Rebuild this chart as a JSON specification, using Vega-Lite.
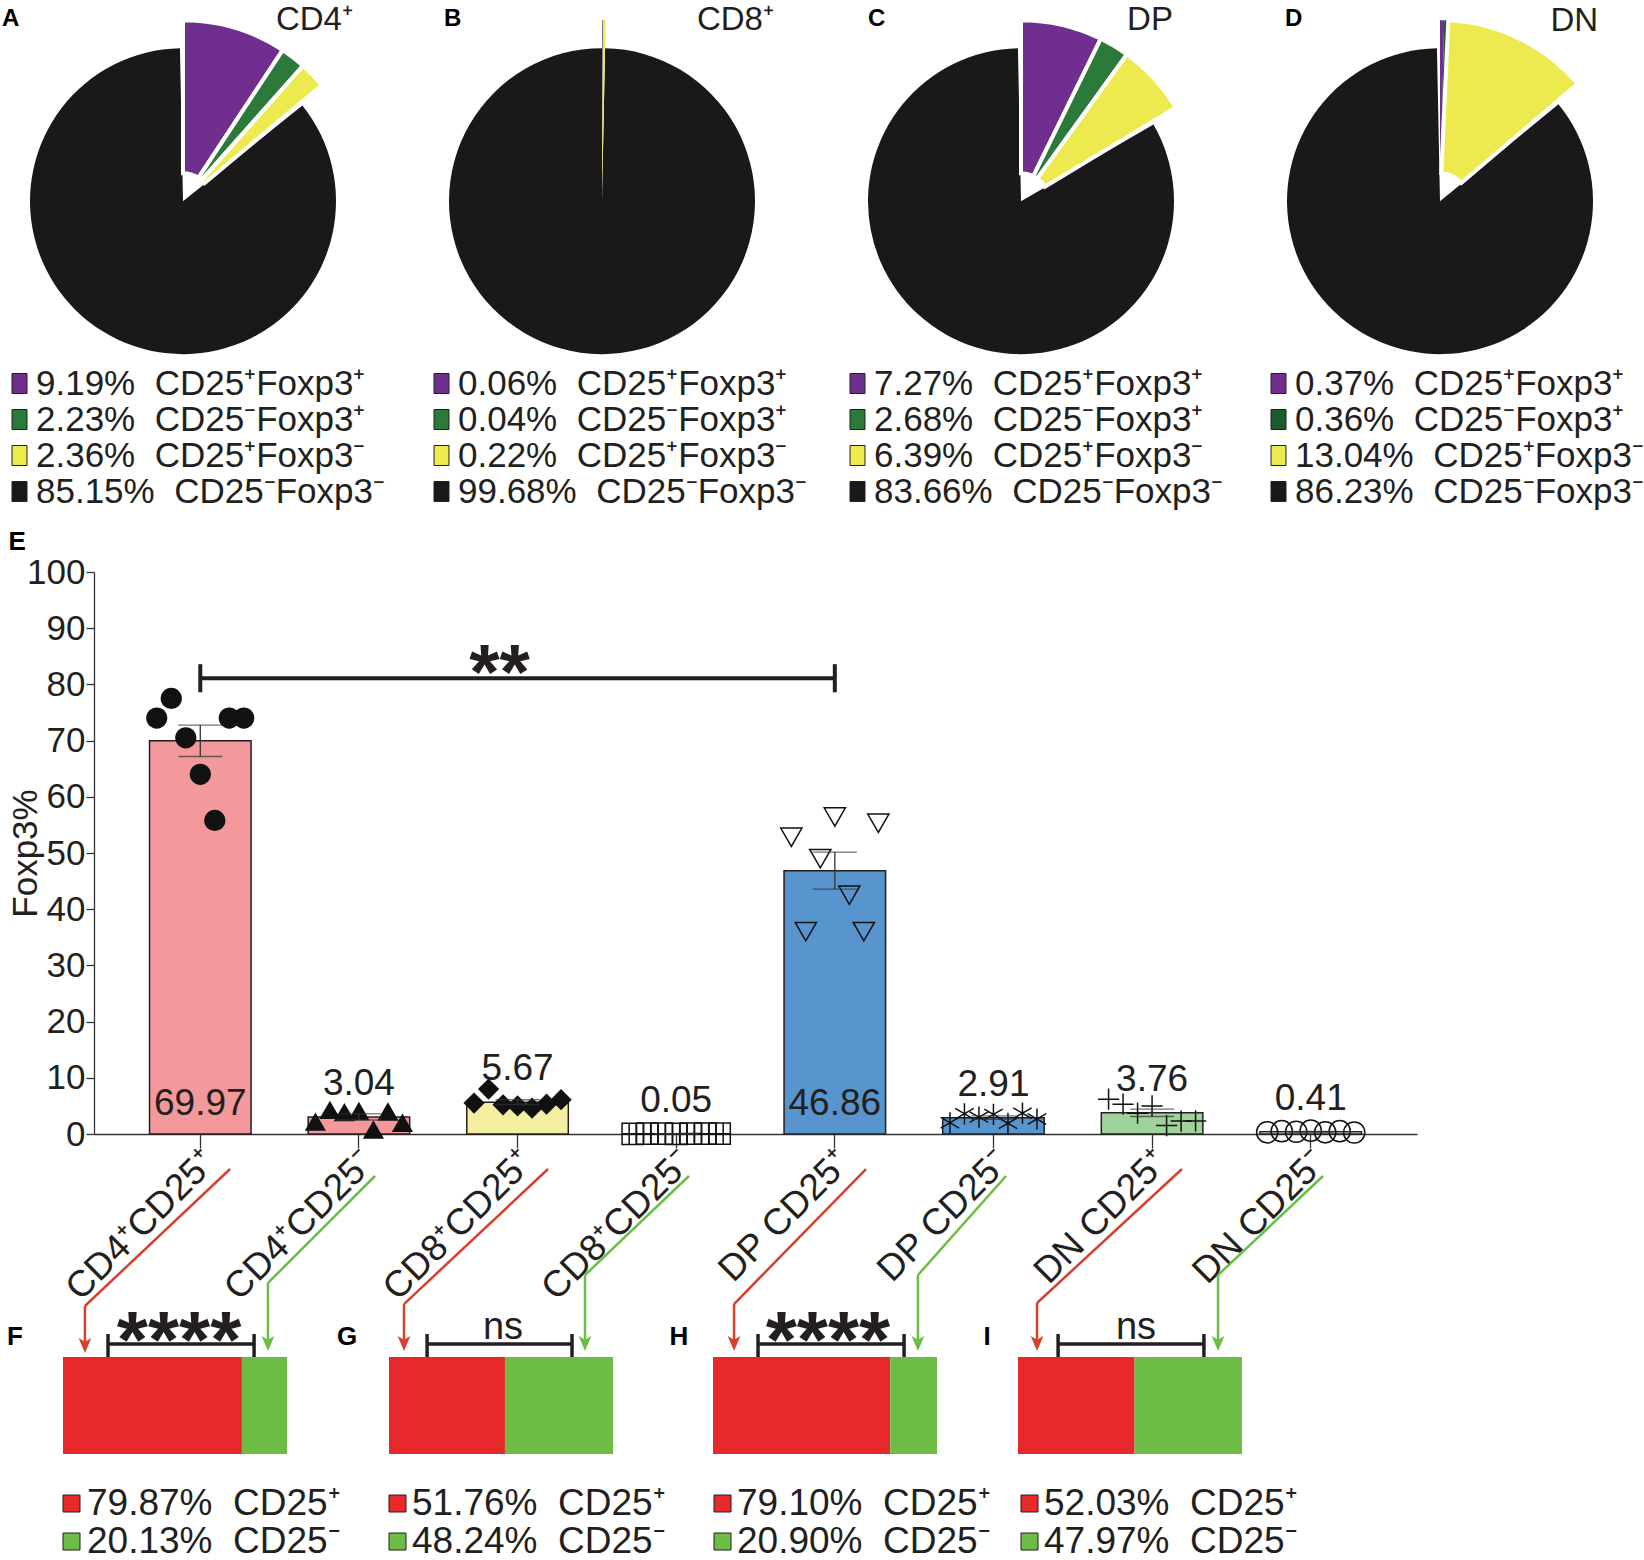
{
  "$schema": "https://vega.github.io/schema/vega-lite/v6.json",
  "padding": {"left": 2, "top": 4, "right": 0, "bottom": 0},
  "spacing": 223,
  "bounds": "flush",
  "config": {
    "font": "Liberation Sans",
    "view": {"stroke": null},
    "text": {"color": "#231F20"},
    "axis": {"labelColor": "#231F20", "titleColor": "#231F20", "domainColor": "#333333", "tickColor": "#333333", "grid": false, "labelFont": "Liberation Sans", "titleFont": "Liberation Sans"},
    "legend": {"labelFont": "Liberation Sans", "labelColor": "#231F20", "labelLimit": 0}
  },
  "datasets": {
    "bars": [
      {"g": "CD4⁺CD25⁺", "mean": 69.97, "sem": 2.8},
      {"g": "CD4⁺CD25⁻", "mean": 3.04, "sem": 0.55},
      {"g": "CD8⁺CD25⁺", "mean": 5.67, "sem": 0.42},
      {"g": "CD8⁺CD25⁻", "mean": 0.05, "sem": 0.005},
      {"g": "DP CD25⁺", "mean": 46.86, "sem": 3.3},
      {"g": "DP CD25⁻", "mean": 2.91, "sem": 0.3},
      {"g": "DN CD25⁺", "mean": 3.76, "sem": 0.65},
      {"g": "DN CD25⁻", "mean": 0.41, "sem": 0.05}
    ],
    "pts": [
      {"g": "CD4⁺CD25⁺", "rep": 1, "v": 74.0}, {"g": "CD4⁺CD25⁺", "rep": 2, "v": 77.5}, {"g": "CD4⁺CD25⁺", "rep": 3, "v": 70.5}, {"g": "CD4⁺CD25⁺", "rep": 4, "v": 64.0}, {"g": "CD4⁺CD25⁺", "rep": 5, "v": 55.8}, {"g": "CD4⁺CD25⁺", "rep": 6, "v": 74.0}, {"g": "CD4⁺CD25⁺", "rep": 7, "v": 74.0},
      {"g": "CD4⁺CD25⁻", "rep": 1, "v": 2.2}, {"g": "CD4⁺CD25⁻", "rep": 2, "v": 4.3}, {"g": "CD4⁺CD25⁻", "rep": 3, "v": 3.9}, {"g": "CD4⁺CD25⁻", "rep": 4, "v": 4.1}, {"g": "CD4⁺CD25⁻", "rep": 5, "v": 0.8}, {"g": "CD4⁺CD25⁻", "rep": 6, "v": 4.0}, {"g": "CD4⁺CD25⁻", "rep": 7, "v": 2.0},
      {"g": "CD8⁺CD25⁺", "rep": 1, "v": 5.5}, {"g": "CD8⁺CD25⁺", "rep": 2, "v": 8.0}, {"g": "CD8⁺CD25⁺", "rep": 3, "v": 5.2}, {"g": "CD8⁺CD25⁺", "rep": 4, "v": 5.0}, {"g": "CD8⁺CD25⁺", "rep": 5, "v": 4.6}, {"g": "CD8⁺CD25⁺", "rep": 6, "v": 5.3}, {"g": "CD8⁺CD25⁺", "rep": 7, "v": 6.1},
      {"g": "CD8⁺CD25⁻", "rep": 1, "v": 0.03}, {"g": "CD8⁺CD25⁻", "rep": 2, "v": 0.06}, {"g": "CD8⁺CD25⁻", "rep": 3, "v": 0.05}, {"g": "CD8⁺CD25⁻", "rep": 4, "v": 0.04}, {"g": "CD8⁺CD25⁻", "rep": 5, "v": 0.07}, {"g": "CD8⁺CD25⁻", "rep": 6, "v": 0.05}, {"g": "CD8⁺CD25⁻", "rep": 7, "v": 0.05},
      {"g": "DP CD25⁺", "rep": 1, "v": 52.8}, {"g": "DP CD25⁺", "rep": 2, "v": 36.0}, {"g": "DP CD25⁺", "rep": 3, "v": 49.0}, {"g": "DP CD25⁺", "rep": 4, "v": 56.4}, {"g": "DP CD25⁺", "rep": 5, "v": 42.5}, {"g": "DP CD25⁺", "rep": 6, "v": 36.0}, {"g": "DP CD25⁺", "rep": 7, "v": 55.3},
      {"g": "DP CD25⁻", "rep": 1, "v": 2.0}, {"g": "DP CD25⁻", "rep": 2, "v": 3.6}, {"g": "DP CD25⁻", "rep": 3, "v": 3.0}, {"g": "DP CD25⁻", "rep": 4, "v": 3.5}, {"g": "DP CD25⁻", "rep": 5, "v": 1.9}, {"g": "DP CD25⁻", "rep": 6, "v": 3.7}, {"g": "DP CD25⁻", "rep": 7, "v": 2.67},
      {"g": "DN CD25⁺", "rep": 1, "v": 6.2}, {"g": "DN CD25⁺", "rep": 2, "v": 5.3}, {"g": "DN CD25⁺", "rep": 3, "v": 3.7}, {"g": "DN CD25⁺", "rep": 4, "v": 5.0}, {"g": "DN CD25⁺", "rep": 5, "v": 1.5}, {"g": "DN CD25⁺", "rep": 6, "v": 2.3}, {"g": "DN CD25⁺", "rep": 7, "v": 2.32},
      {"g": "DN CD25⁻", "rep": 1, "v": 0.3}, {"g": "DN CD25⁻", "rep": 2, "v": 0.5}, {"g": "DN CD25⁻", "rep": 3, "v": 0.4}, {"g": "DN CD25⁻", "rep": 4, "v": 0.6}, {"g": "DN CD25⁻", "rep": 5, "v": 0.3}, {"g": "DN CD25⁻", "rep": 6, "v": 0.5}, {"g": "DN CD25⁻", "rep": 7, "v": 0.27}
    ]
  },
  "resolve": {"scale": {"x": "independent", "y": "independent", "color": "independent"}, "legend": {"color": "independent"}},
  "vconcat": [
    {
      "spacing": 241,
      "bounds": "flush",
      "resolve": {"scale": {"x": "independent", "y": "independent", "color": "independent", "theta": "independent"}, "legend": {"color": "independent"}},
      "hconcat": [
        {
          "width": 178, "height": 150,
          "data": {"values": [
            {"k": "9.19%\u00a0\u00a0CD25⁺Foxp3⁺", "p": 9.19, "o": 1},
            {"k": "2.23%\u00a0\u00a0CD25⁻Foxp3⁺", "p": 2.23, "o": 2},
            {"k": "2.36%\u00a0\u00a0CD25⁺Foxp3⁻", "p": 2.36, "o": 3},
            {"k": "85.15%\u00a0\u00a0CD25⁻Foxp3⁻", "p": 85.15, "o": 4}
          ]},
          "encoding": {
            "x": {"datum": 0, "type": "quantitative", "scale": {"domain": [-0.5817, 0.5817], "nice": false, "zero": false}, "axis": null},
            "y": {"datum": 0, "type": "quantitative", "scale": {"domain": [-1.948, -0.967], "nice": false, "zero": false}, "axis": null}
          },
          "layer": [
            {
              "mark": {"type": "arc", "outerRadius": 153, "padAngle": 0.04},
              "encoding": {
                "theta": {"field": "p", "type": "quantitative", "stack": true},
                "order": {"field": "o"},
                "color": {"field": "k", "type": "nominal", "scale": {"domain": ["9.19%\u00a0\u00a0CD25⁺Foxp3⁺", "2.23%\u00a0\u00a0CD25⁻Foxp3⁺", "2.36%\u00a0\u00a0CD25⁺Foxp3⁻", "85.15%\u00a0\u00a0CD25⁻Foxp3⁻"], "range": ["#702F8F", "#2C7A3A", "#ECEA4F", "#1B1819"]},
                  "legend": {"orient": "none", "legendX": -92, "legendY": 17, "title": null, "symbolType": "M-0.75,-1H0.75V1H-0.75Z", "symbolSize": 400, "symbolStrokeColor": "#231F20", "symbolStrokeWidth": 1, "labelFontSize": 35, "labelOffset": -1, "rowPadding": 0, "labelLimit": 0}},
                "opacity": {"condition": {"test": "datum.o == 4", "value": 1}, "value": 0}
              }
            },
            {
              "mark": {"type": "arc", "outerRadius": 181, "innerRadius": 28, "stroke": "white"},
              "encoding": {
                "theta": {"field": "p", "type": "quantitative", "stack": true},
                "order": {"field": "o"},
                "color": {"field": "k", "type": "nominal"},
                "opacity": {"condition": {"test": "datum.o == 4", "value": 0}, "value": 1},
                "strokeWidth": {"condition": {"test": "datum.p > 1", "value": 4}, "value": 0}
              }
            },
            {
              "data": {"values": [{}]},
              "mark": {"type": "text", "align": "left", "baseline": "alphabetic", "fontSize": 24, "fontWeight": "bold", "color": "#000000"},
              "encoding": {"x": {"datum": -1.183, "type": "quantitative"}, "y": {"datum": 1.144, "type": "quantitative"}, "text": {"value": "A"}}
            },
            {
              "data": {"values": [{}]},
              "mark": {"type": "text", "align": "right", "baseline": "alphabetic", "fontSize": 33},
              "encoding": {"x": {"datum": 1.111, "type": "quantitative"}, "y": {"datum": 1.118, "type": "quantitative"}, "text": {"value": "CD4⁺"}}
            }
          ]
        },
        {
          "width": 178, "height": 150,
          "data": {"values": [
            {"k": "0.06%\u00a0\u00a0CD25⁺Foxp3⁺", "p": 0.06, "o": 1},
            {"k": "0.04%\u00a0\u00a0CD25⁻Foxp3⁺", "p": 0.04, "o": 2},
            {"k": "0.22%\u00a0\u00a0CD25⁺Foxp3⁻", "p": 0.22, "o": 3},
            {"k": "99.68%\u00a0\u00a0CD25⁻Foxp3⁻", "p": 99.68, "o": 4}
          ]},
          "encoding": {
            "x": {"datum": 0, "type": "quantitative", "scale": {"domain": [-0.5817, 0.5817], "nice": false, "zero": false}, "axis": null},
            "y": {"datum": 0, "type": "quantitative", "scale": {"domain": [-1.948, -0.967], "nice": false, "zero": false}, "axis": null}
          },
          "layer": [
            {
              "mark": {"type": "arc", "outerRadius": 153},
              "encoding": {
                "theta": {"field": "p", "type": "quantitative", "stack": true},
                "order": {"field": "o"},
                "color": {"field": "k", "type": "nominal", "scale": {"domain": ["0.06%\u00a0\u00a0CD25⁺Foxp3⁺", "0.04%\u00a0\u00a0CD25⁻Foxp3⁺", "0.22%\u00a0\u00a0CD25⁺Foxp3⁻", "99.68%\u00a0\u00a0CD25⁻Foxp3⁻"], "range": ["#702F8F", "#2C7A3A", "#ECEA4F", "#1B1819"]},
                  "legend": {"orient": "none", "legendX": -89, "legendY": 17, "title": null, "symbolType": "M-0.75,-1H0.75V1H-0.75Z", "symbolSize": 400, "symbolStrokeColor": "#231F20", "symbolStrokeWidth": 1, "labelFontSize": 35, "labelOffset": -1, "rowPadding": 0, "labelLimit": 0}},
                "opacity": {"condition": {"test": "datum.o == 4", "value": 1}, "value": 0}
              }
            },
            {
              "mark": {"type": "arc", "outerRadius": 181, "innerRadius": 28, "stroke": "white"},
              "encoding": {
                "theta": {"field": "p", "type": "quantitative", "stack": true},
                "order": {"field": "o"},
                "color": {"field": "k", "type": "nominal"},
                "opacity": {"condition": {"test": "datum.o == 4", "value": 0}, "value": 1},
                "strokeWidth": {"condition": {"test": "datum.p > 1", "value": 4}, "value": 0}
              }
            },
            {
              "data": {"values": [{}]},
              "mark": {"type": "text", "align": "left", "baseline": "alphabetic", "fontSize": 24, "fontWeight": "bold", "color": "#000000"},
              "encoding": {"x": {"datum": -1.033, "type": "quantitative"}, "y": {"datum": 1.144, "type": "quantitative"}, "text": {"value": "B"}}
            },
            {
              "data": {"values": [{}]},
              "mark": {"type": "text", "align": "right", "baseline": "alphabetic", "fontSize": 33},
              "encoding": {"x": {"datum": 1.124, "type": "quantitative"}, "y": {"datum": 1.118, "type": "quantitative"}, "text": {"value": "CD8⁺"}}
            }
          ]
        },
        {
          "width": 178, "height": 150,
          "data": {"values": [
            {"k": "7.27%\u00a0\u00a0CD25⁺Foxp3⁺", "p": 7.27, "o": 1},
            {"k": "2.68%\u00a0\u00a0CD25⁻Foxp3⁺", "p": 2.68, "o": 2},
            {"k": "6.39%\u00a0\u00a0CD25⁺Foxp3⁻", "p": 6.39, "o": 3},
            {"k": "83.66%\u00a0\u00a0CD25⁻Foxp3⁻", "p": 83.66, "o": 4}
          ]},
          "encoding": {
            "x": {"datum": 0, "type": "quantitative", "scale": {"domain": [-0.5817, 0.5817], "nice": false, "zero": false}, "axis": null},
            "y": {"datum": 0, "type": "quantitative", "scale": {"domain": [-1.948, -0.967], "nice": false, "zero": false}, "axis": null}
          },
          "layer": [
            {
              "mark": {"type": "arc", "outerRadius": 153, "padAngle": 0.04},
              "encoding": {
                "theta": {"field": "p", "type": "quantitative", "stack": true},
                "order": {"field": "o"},
                "color": {"field": "k", "type": "nominal", "scale": {"domain": ["7.27%\u00a0\u00a0CD25⁺Foxp3⁺", "2.68%\u00a0\u00a0CD25⁻Foxp3⁺", "6.39%\u00a0\u00a0CD25⁺Foxp3⁻", "83.66%\u00a0\u00a0CD25⁻Foxp3⁻"], "range": ["#702F8F", "#2C7A3A", "#ECEA4F", "#1B1819"]},
                  "legend": {"orient": "none", "legendX": -92, "legendY": 17, "title": null, "symbolType": "M-0.75,-1H0.75V1H-0.75Z", "symbolSize": 400, "symbolStrokeColor": "#231F20", "symbolStrokeWidth": 1, "labelFontSize": 35, "labelOffset": -1, "rowPadding": 0, "labelLimit": 0}},
                "opacity": {"condition": {"test": "datum.o == 4", "value": 1}, "value": 0}
              }
            },
            {
              "mark": {"type": "arc", "outerRadius": 181, "innerRadius": 28, "stroke": "white"},
              "encoding": {
                "theta": {"field": "p", "type": "quantitative", "stack": true},
                "order": {"field": "o"},
                "color": {"field": "k", "type": "nominal"},
                "opacity": {"condition": {"test": "datum.o == 4", "value": 0}, "value": 1},
                "strokeWidth": {"condition": {"test": "datum.p > 1", "value": 4}, "value": 0}
              }
            },
            {
              "data": {"values": [{}]},
              "mark": {"type": "text", "align": "left", "baseline": "alphabetic", "fontSize": 24, "fontWeight": "bold", "color": "#000000"},
              "encoding": {"x": {"datum": -1.0, "type": "quantitative"}, "y": {"datum": 1.144, "type": "quantitative"}, "text": {"value": "C"}}
            },
            {
              "data": {"values": [{}]},
              "mark": {"type": "text", "align": "right", "baseline": "alphabetic", "fontSize": 33},
              "encoding": {"x": {"datum": 0.993, "type": "quantitative"}, "y": {"datum": 1.118, "type": "quantitative"}, "text": {"value": "DP"}}
            }
          ]
        },
        {
          "width": 178, "height": 150,
          "data": {"values": [
            {"k": "0.37%\u00a0\u00a0CD25⁺Foxp3⁺", "p": 0.37, "o": 1},
            {"k": "0.36%\u00a0\u00a0CD25⁻Foxp3⁺", "p": 0.36, "o": 2},
            {"k": "13.04%\u00a0\u00a0CD25⁺Foxp3⁻", "p": 13.04, "o": 3},
            {"k": "86.23%\u00a0\u00a0CD25⁻Foxp3⁻", "p": 86.23, "o": 4}
          ]},
          "encoding": {
            "x": {"datum": 0, "type": "quantitative", "scale": {"domain": [-0.5817, 0.5817], "nice": false, "zero": false}, "axis": null},
            "y": {"datum": 0, "type": "quantitative", "scale": {"domain": [-1.948, -0.967], "nice": false, "zero": false}, "axis": null}
          },
          "layer": [
            {
              "mark": {"type": "arc", "outerRadius": 153, "padAngle": 0.04},
              "encoding": {
                "theta": {"field": "p", "type": "quantitative", "stack": true},
                "order": {"field": "o"},
                "color": {"field": "k", "type": "nominal", "scale": {"domain": ["0.37%\u00a0\u00a0CD25⁺Foxp3⁺", "0.36%\u00a0\u00a0CD25⁻Foxp3⁺", "13.04%\u00a0\u00a0CD25⁺Foxp3⁻", "86.23%\u00a0\u00a0CD25⁻Foxp3⁻"], "range": ["#702F8F", "#1F5A2E", "#ECEA4F", "#1B1819"]},
                  "legend": {"orient": "none", "legendX": -90, "legendY": 17, "title": null, "symbolType": "M-0.75,-1H0.75V1H-0.75Z", "symbolSize": 400, "symbolStrokeColor": "#231F20", "symbolStrokeWidth": 1, "labelFontSize": 35, "labelOffset": -1, "rowPadding": 0, "labelLimit": 0}},
                "opacity": {"condition": {"test": "datum.o == 4", "value": 1}, "value": 0}
              }
            },
            {
              "mark": {"type": "arc", "outerRadius": 181, "innerRadius": 28, "stroke": "white"},
              "encoding": {
                "theta": {"field": "p", "type": "quantitative", "stack": true},
                "order": {"field": "o"},
                "color": {"field": "k", "type": "nominal"},
                "opacity": {"condition": {"test": "datum.o == 4", "value": 0}, "value": 1},
                "strokeWidth": {"condition": {"test": "datum.p > 1", "value": 4}, "value": 0}
              }
            },
            {
              "data": {"values": [{}]},
              "mark": {"type": "text", "align": "left", "baseline": "alphabetic", "fontSize": 24, "fontWeight": "bold", "color": "#000000"},
              "encoding": {"x": {"datum": -1.013, "type": "quantitative"}, "y": {"datum": 1.144, "type": "quantitative"}, "text": {"value": "D"}}
            },
            {
              "data": {"values": [{}]},
              "mark": {"type": "text", "align": "right", "baseline": "alphabetic", "fontSize": 33},
              "encoding": {"x": {"datum": 1.033, "type": "quantitative"}, "y": {"datum": 1.111, "type": "quantitative"}, "text": {"value": "DN"}}
            }
          ]
        }
      ]
    },
    {
      "width": 1323, "height": 562,
      "title": {"text": "E", "anchor": "start", "frame": "bounds", "fontSize": 26, "fontWeight": "bold", "offset": 0, "dx": 0, "color": "#000000"},
      "resolve": {"scale": {"xOffset": "independent"}},
      "encoding": {
        "x": {"field": "g", "type": "nominal", "sort": null, "title": null,
          "scale": {"domain": ["CD4⁺CD25⁺", "CD4⁺CD25⁻", "CD8⁺CD25⁺", "CD8⁺CD25⁻", "DP CD25⁺", "DP CD25⁻", "DN CD25⁺", "DN CD25⁻"], "paddingInner": 0.36, "paddingOuter": 0.35},
          "axis": {"labelAngle": -45, "labelAlign": "right", "labelBaseline": "middle", "labelFontSize": 37, "tickSize": 14, "tickWidth": 1.3, "domainWidth": 1.3, "labelPadding": 8, "labelOffset": 10, "labelLimit": 0}}
      },
      "layer": [
        {
          "data": {"name": "bars"},
          "mark": {"type": "bar", "stroke": "#231F20", "strokeWidth": 1.5},
          "encoding": {
            "y": {"field": "mean", "type": "quantitative", "title": "Foxp3%", "scale": {"domain": [0, 100], "nice": false},
              "axis": {"values": [0, 10, 20, 30, 40, 50, 60, 70, 80, 90, 100], "tickSize": 8, "tickWidth": 1.3, "domainWidth": 1.3, "labelFontSize": 35, "labelPadding": 1, "titleFontSize": 35, "titleFontWeight": "normal", "titlePadding": -17}},
            "fill": {"field": "g", "type": "nominal", "legend": null,
              "scale": {"domain": ["CD4⁺CD25⁺", "CD4⁺CD25⁻", "CD8⁺CD25⁺", "CD8⁺CD25⁻", "DP CD25⁺", "DP CD25⁻", "DN CD25⁺", "DN CD25⁻"], "range": ["#F3999B", "#F3999B", "#F4EFA0", "#FFFFFF", "#5895CE", "#5895CE", "#A0D39C", "#FFFFFF"]}}
          }
        },
        {
          "data": {"name": "pts"},
          "transform": [{"filter": {"field": "g", "oneOf": ["CD4⁺CD25⁺", "CD4⁺CD25⁻", "CD8⁺CD25⁺"]}}],
          "mark": {"type": "point", "filled": true, "color": "#111111", "size": 450, "opacity": 1},
          "encoding": {
            "xOffset": {"field": "rep", "type": "nominal"},
            "y": {"field": "v", "type": "quantitative", "title": "Foxp3%"},
            "shape": {"field": "g", "type": "nominal", "legend": null,
              "scale": {"domain": ["CD4⁺CD25⁺", "CD4⁺CD25⁻", "CD8⁺CD25⁺", "CD8⁺CD25⁻", "DP CD25⁺", "DP CD25⁻", "DN CD25⁺", "DN CD25⁻"], "range": ["circle", "triangle-up", "diamond", "M-1,-1H1V1H-1ZM-0.33,-1V1M0.33,-1V1M-1,0H1", "triangle-down", "M0,-1V1M-0.87,-0.5L0.87,0.5M-0.87,0.5L0.87,-0.5", "M0,-1V1M-1,0H1", "circle"]}}
          }
        },
        {
          "data": {"name": "pts"},
          "transform": [{"filter": {"field": "g", "oneOf": ["CD8⁺CD25⁻", "DP CD25⁺", "DP CD25⁻", "DN CD25⁺", "DN CD25⁻"]}}],
          "mark": {"type": "point", "filled": false, "stroke": "#111111", "strokeWidth": 1.5, "size": 450, "opacity": 1},
          "encoding": {
            "xOffset": {"field": "rep", "type": "nominal"},
            "y": {"field": "v", "type": "quantitative", "title": "Foxp3%"},
            "shape": {"field": "g", "type": "nominal", "legend": null}
          }
        },
        {
          "data": {"name": "bars"},
          "mark": {"type": "errorbar", "ticks": {"size": 44}, "color": "#333333", "thickness": 1.3},
          "encoding": {
            "y": {"field": "mean", "type": "quantitative", "title": "Foxp3%"},
            "yError": {"field": "sem"}
          }
        },
        {
          "data": {"name": "bars"},
          "transform": [{"filter": "datum.mean > 20"}],
          "mark": {"type": "text", "fontSize": 37, "baseline": "middle", "dy": -30},
          "encoding": {
            "y": {"datum": 0, "type": "quantitative", "title": "Foxp3%"},
            "text": {"field": "mean", "type": "quantitative", "format": ".2f"}
          }
        },
        {
          "data": {"name": "bars"},
          "transform": [{"filter": "datum.mean <= 20"}],
          "mark": {"type": "text", "fontSize": 37, "baseline": "middle", "dy": -33},
          "encoding": {
            "y": {"field": "mean", "type": "quantitative", "title": "Foxp3%"},
            "text": {"field": "mean", "type": "quantitative", "format": ".2f"}
          }
        },
        {
          "data": {"values": [{}]},
          "mark": {"type": "rule", "strokeWidth": 4, "color": "#231F20"},
          "encoding": {
            "x": {"datum": "CD4⁺CD25⁺", "bandPosition": 0.5},
            "x2": {"datum": "DP CD25⁺", "bandPosition": 0.5},
            "y": {"datum": 81.1, "type": "quantitative", "title": "Foxp3%"}
          }
        },
        {
          "data": {"values": [{"g": "CD4⁺CD25⁺"}, {"g": "DP CD25⁺"}]},
          "mark": {"type": "rule", "strokeWidth": 4, "color": "#231F20"},
          "encoding": {
            "y": {"datum": 78.6, "type": "quantitative", "title": "Foxp3%"},
            "y2": {"datum": 83.6}
          }
        },
        {
          "data": {"values": [{}]},
          "mark": {"type": "text", "fontSize": 78, "fontWeight": "bold", "baseline": "alphabetic", "dx": -18},
          "encoding": {
            "x": {"datum": "CD8⁺CD25⁺"},
            "y": {"datum": 77.4, "type": "quantitative", "title": "Foxp3%"},
            "text": {"value": "**"}
          }
        }
      ]
    },
    {
      "spacing": 102,
      "bounds": "flush",
      "resolve": {"scale": {"x": "independent", "y": "independent", "color": "independent"}, "legend": {"color": "independent"}},
      "hconcat": [
        {
          "width": 193, "height": 97,
          "layer": [
            {
              "data": {"values": [{"k": "79.87%\u00a0\u00a0CD25⁺", "lo": 0, "hi": 79.87}, {"k": "20.13%\u00a0\u00a0CD25⁻", "lo": 79.87, "hi": 100}]},
              "mark": {"type": "rect"},
              "encoding": {
                "x": {"field": "lo", "type": "quantitative", "scale": {"domain": [13.84, 100], "nice": false, "zero": false}, "axis": null},
                "x2": {"field": "hi"},
                "y": {"datum": 0, "type": "quantitative", "scale": {"domain": [0, 1], "nice": false, "zero": false}, "axis": null},
                "y2": {"datum": 1},
                "color": {"field": "k", "type": "nominal", "scale": {"domain": ["79.87%\u00a0\u00a0CD25⁺", "20.13%\u00a0\u00a0CD25⁻"], "range": ["#E8292C", "#6DBD45"]},
                  "legend": {"orient": "none", "legendX": -41, "legendY": 128, "title": null, "symbolType": "square", "symbolSize": 289, "symbolStrokeColor": "#231F20", "symbolStrokeWidth": 1, "labelFontSize": 37, "labelOffset": -3, "rowPadding": 0, "labelLimit": 0}}
              }
            },
            {
              "data": {"values": [
                {"c": "r", "x": 74.6, "y": 2.938, "x2": 9.8, "y2": 1.526},
                {"c": "r", "x": 9.8, "y": 1.526, "x2": 9.8, "y2": 1.12},
                {"c": "g", "x": 139.3, "y": 2.866, "x2": 91.5, "y2": 1.763},
                {"c": "g", "x": 91.5, "y": 1.763, "x2": 91.5, "y2": 1.14}
              ]},
              "mark": {"type": "rule", "strokeWidth": 2.5},
              "encoding": {
                "x": {"field": "x", "type": "quantitative", "scale": {"domain": [13.84, 100], "nice": false, "zero": false}, "axis": null},
                "x2": {"field": "x2"},
                "y": {"field": "y", "type": "quantitative", "scale": {"domain": [0, 1], "nice": false, "zero": false}, "axis": null},
                "y2": {"field": "y2"},
                "color": {"condition": {"test": "datum.c == 'r'", "value": "#D6402D"}, "value": "#6CBD45"}
              }
            },
            {
              "data": {"values": [{"c": "r", "x": 9.8, "y": 1.119}, {"c": "g", "x": 91.5, "y": 1.139}]},
              "mark": {"type": "point", "shape": "M0,1L-0.85,-1L0,-0.5L0.85,-1Z", "size": 225, "filled": true, "opacity": 1},
              "encoding": {
                "x": {"field": "x", "type": "quantitative", "scale": {"domain": [13.84, 100], "nice": false, "zero": false}, "axis": null},
                "y": {"field": "y", "type": "quantitative", "scale": {"domain": [0, 1], "nice": false, "zero": false}, "axis": null},
                "color": {"condition": {"test": "datum.c == 'r'", "value": "#D6402D"}, "value": "#6CBD45"}
              }
            },
            {
              "data": {"values": [
                {"x": 20.1, "x2": 85.3, "y": 1.134, "y2": 1.134},
                {"x": 20.1, "x2": 20.1, "y": 1.0, "y2": 1.237},
                {"x": 85.3, "x2": 85.3, "y": 1.0, "y2": 1.237}
              ]},
              "mark": {"type": "rule", "strokeWidth": 3.5, "color": "#231F20"},
              "encoding": {
                "x": {"field": "x", "type": "quantitative", "scale": {"domain": [13.84, 100], "nice": false, "zero": false}, "axis": null},
                "x2": {"field": "x2"},
                "y": {"field": "y", "type": "quantitative", "scale": {"domain": [0, 1], "nice": false, "zero": false}, "axis": null},
                "y2": {"field": "y2"}
              }
            },
            {
              "data": {"values": [{"x": 51.8, "y": 0.9}]},
              "mark": {"type": "text", "fontSize": 80, "fontWeight": "bold", "baseline": "alphabetic"},
              "encoding": {
                "x": {"field": "x", "type": "quantitative", "scale": {"domain": [13.84, 100], "nice": false, "zero": false}, "axis": null},
                "y": {"field": "y", "type": "quantitative", "scale": {"domain": [0, 1], "nice": false, "zero": false}, "axis": null},
                "text": {"value": "****"}
              }
            },
            {
              "data": {"values": [{"x": -21.4, "y": 1.12}]},
              "mark": {"type": "text", "fontSize": 26, "fontWeight": "bold", "baseline": "alphabetic", "color": "#000000"},
              "encoding": {
                "x": {"field": "x", "type": "quantitative", "scale": {"domain": [13.84, 100], "nice": false, "zero": false}, "axis": null},
                "y": {"field": "y", "type": "quantitative", "scale": {"domain": [0, 1], "nice": false, "zero": false}, "axis": null},
                "text": {"value": "F"}
              }
            }
          ]
        },
        {
          "width": 224, "height": 97,
          "layer": [
            {
              "data": {"values": [{"k": "51.76%\u00a0\u00a0CD25⁺", "lo": 0, "hi": 51.76}, {"k": "48.24%\u00a0\u00a0CD25⁻", "lo": 51.76, "hi": 100}]},
              "mark": {"type": "rect"},
              "encoding": {
                "x": {"field": "lo", "type": "quantitative", "scale": {"domain": [0, 100], "nice": false, "zero": false}, "axis": null},
                "x2": {"field": "hi"},
                "y": {"datum": 0, "type": "quantitative", "scale": {"domain": [0, 1], "nice": false, "zero": false}, "axis": null},
                "y2": {"datum": 1},
                "color": {"field": "k", "type": "nominal", "scale": {"domain": ["51.76%\u00a0\u00a0CD25⁺", "48.24%\u00a0\u00a0CD25⁻"], "range": ["#E8292C", "#6DBD45"]},
                  "legend": {"orient": "none", "legendX": -10, "legendY": 128, "title": null, "symbolType": "square", "symbolSize": 289, "symbolStrokeColor": "#231F20", "symbolStrokeWidth": 1, "labelFontSize": 37, "labelOffset": -4, "rowPadding": 0, "labelLimit": 0}}
              }
            },
            {
              "data": {"values": [
                {"c": "r", "x": 71.0, "y": 2.938, "x2": 6.7, "y2": 1.546},
                {"c": "r", "x": 6.7, "y": 1.546, "x2": 6.7, "y2": 1.14},
                {"c": "g", "x": 133.9, "y": 2.866, "x2": 87.5, "y2": 1.845},
                {"c": "g", "x": 87.5, "y": 1.845, "x2": 87.5, "y2": 1.14}
              ]},
              "mark": {"type": "rule", "strokeWidth": 2.5},
              "encoding": {
                "x": {"field": "x", "type": "quantitative", "scale": {"domain": [0, 100], "nice": false, "zero": false}, "axis": null},
                "x2": {"field": "x2"},
                "y": {"field": "y", "type": "quantitative", "scale": {"domain": [0, 1], "nice": false, "zero": false}, "axis": null},
                "y2": {"field": "y2"},
                "color": {"condition": {"test": "datum.c == 'r'", "value": "#D6402D"}, "value": "#6CBD45"}
              }
            },
            {
              "data": {"values": [{"c": "r", "x": 6.7, "y": 1.139}, {"c": "g", "x": 87.5, "y": 1.139}]},
              "mark": {"type": "point", "shape": "M0,1L-0.85,-1L0,-0.5L0.85,-1Z", "size": 225, "filled": true, "opacity": 1},
              "encoding": {
                "x": {"field": "x", "type": "quantitative", "scale": {"domain": [0, 100], "nice": false, "zero": false}, "axis": null},
                "y": {"field": "y", "type": "quantitative", "scale": {"domain": [0, 1], "nice": false, "zero": false}, "axis": null},
                "color": {"condition": {"test": "datum.c == 'r'", "value": "#D6402D"}, "value": "#6CBD45"}
              }
            },
            {
              "data": {"values": [
                {"x": 17.0, "x2": 81.7, "y": 1.134, "y2": 1.134},
                {"x": 17.0, "x2": 17.0, "y": 1.0, "y2": 1.237},
                {"x": 81.7, "x2": 81.7, "y": 1.0, "y2": 1.237}
              ]},
              "mark": {"type": "rule", "strokeWidth": 3.5, "color": "#231F20"},
              "encoding": {
                "x": {"field": "x", "type": "quantitative", "scale": {"domain": [0, 100], "nice": false, "zero": false}, "axis": null},
                "x2": {"field": "x2"},
                "y": {"field": "y", "type": "quantitative", "scale": {"domain": [0, 1], "nice": false, "zero": false}, "axis": null},
                "y2": {"field": "y2"}
              }
            },
            {
              "data": {"values": [{"x": 50.9, "y": 1.186}]},
              "mark": {"type": "text", "fontSize": 38, "baseline": "alphabetic"},
              "encoding": {
                "x": {"field": "x", "type": "quantitative", "scale": {"domain": [0, 100], "nice": false, "zero": false}, "axis": null},
                "y": {"field": "y", "type": "quantitative", "scale": {"domain": [0, 1], "nice": false, "zero": false}, "axis": null},
                "text": {"value": "ns"}
              }
            },
            {
              "data": {"values": [{"x": -18.75, "y": 1.12}]},
              "mark": {"type": "text", "fontSize": 26, "fontWeight": "bold", "baseline": "alphabetic", "color": "#000000"},
              "encoding": {
                "x": {"field": "x", "type": "quantitative", "scale": {"domain": [0, 100], "nice": false, "zero": false}, "axis": null},
                "y": {"field": "y", "type": "quantitative", "scale": {"domain": [0, 1], "nice": false, "zero": false}, "axis": null},
                "text": {"value": "G"}
              }
            }
          ]
        },
        {
          "width": 222, "height": 97,
          "layer": [
            {
              "data": {"values": [{"k": "79.10%\u00a0\u00a0CD25⁺", "lo": 0, "hi": 79.10}, {"k": "20.90%\u00a0\u00a0CD25⁻", "lo": 79.10, "hi": 100}]},
              "mark": {"type": "rect"},
              "encoding": {
                "x": {"field": "lo", "type": "quantitative", "scale": {"domain": [0.89, 100], "nice": false, "zero": false}, "axis": null},
                "x2": {"field": "hi"},
                "y": {"datum": 0, "type": "quantitative", "scale": {"domain": [0, 1], "nice": false, "zero": false}, "axis": null},
                "y2": {"datum": 1},
                "color": {"field": "k", "type": "nominal", "scale": {"domain": ["79.10%\u00a0\u00a0CD25⁺", "20.90%\u00a0\u00a0CD25⁻"], "range": ["#E8292C", "#6DBD45"]},
                  "legend": {"orient": "none", "legendX": -11, "legendY": 128, "title": null, "symbolType": "square", "symbolSize": 289, "symbolStrokeColor": "#231F20", "symbolStrokeWidth": 1, "labelFontSize": 37, "labelOffset": -4, "rowPadding": 0, "labelLimit": 0}}
              }
            },
            {
              "data": {"values": [
                {"c": "r", "x": 68.3, "y": 2.938, "x2": 9.4, "y2": 1.546},
                {"c": "r", "x": 9.4, "y": 1.546, "x2": 9.4, "y2": 1.14},
                {"c": "g", "x": 130.8, "y": 2.866, "x2": 91.5, "y2": 1.845},
                {"c": "g", "x": 91.5, "y": 1.845, "x2": 91.5, "y2": 1.14}
              ]},
              "mark": {"type": "rule", "strokeWidth": 2.5},
              "encoding": {
                "x": {"field": "x", "type": "quantitative", "scale": {"domain": [0.89, 100], "nice": false, "zero": false}, "axis": null},
                "x2": {"field": "x2"},
                "y": {"field": "y", "type": "quantitative", "scale": {"domain": [0, 1], "nice": false, "zero": false}, "axis": null},
                "y2": {"field": "y2"},
                "color": {"condition": {"test": "datum.c == 'r'", "value": "#D6402D"}, "value": "#6CBD45"}
              }
            },
            {
              "data": {"values": [{"c": "r", "x": 9.4, "y": 1.139}, {"c": "g", "x": 91.5, "y": 1.139}]},
              "mark": {"type": "point", "shape": "M0,1L-0.85,-1L0,-0.5L0.85,-1Z", "size": 225, "filled": true, "opacity": 1},
              "encoding": {
                "x": {"field": "x", "type": "quantitative", "scale": {"domain": [0.89, 100], "nice": false, "zero": false}, "axis": null},
                "y": {"field": "y", "type": "quantitative", "scale": {"domain": [0, 1], "nice": false, "zero": false}, "axis": null},
                "color": {"condition": {"test": "datum.c == 'r'", "value": "#D6402D"}, "value": "#6CBD45"}
              }
            },
            {
              "data": {"values": [
                {"x": 20.1, "x2": 85.3, "y": 1.134, "y2": 1.134},
                {"x": 20.1, "x2": 20.1, "y": 1.0, "y2": 1.237},
                {"x": 85.3, "x2": 85.3, "y": 1.0, "y2": 1.237}
              ]},
              "mark": {"type": "rule", "strokeWidth": 3.5, "color": "#231F20"},
              "encoding": {
                "x": {"field": "x", "type": "quantitative", "scale": {"domain": [0.89, 100], "nice": false, "zero": false}, "axis": null},
                "x2": {"field": "x2"},
                "y": {"field": "y", "type": "quantitative", "scale": {"domain": [0, 1], "nice": false, "zero": false}, "axis": null},
                "y2": {"field": "y2"}
              }
            },
            {
              "data": {"values": [{"x": 51.3, "y": 0.9}]},
              "mark": {"type": "text", "fontSize": 80, "fontWeight": "bold", "baseline": "alphabetic"},
              "encoding": {
                "x": {"field": "x", "type": "quantitative", "scale": {"domain": [0.89, 100], "nice": false, "zero": false}, "axis": null},
                "y": {"field": "y", "type": "quantitative", "scale": {"domain": [0, 1], "nice": false, "zero": false}, "axis": null},
                "text": {"value": "****"}
              }
            },
            {
              "data": {"values": [{"x": -15.2, "y": 1.12}]},
              "mark": {"type": "text", "fontSize": 26, "fontWeight": "bold", "baseline": "alphabetic", "color": "#000000"},
              "encoding": {
                "x": {"field": "x", "type": "quantitative", "scale": {"domain": [0.89, 100], "nice": false, "zero": false}, "axis": null},
                "y": {"field": "y", "type": "quantitative", "scale": {"domain": [0, 1], "nice": false, "zero": false}, "axis": null},
                "text": {"value": "H"}
              }
            }
          ]
        },
        {
          "width": 203, "height": 97,
          "layer": [
            {
              "data": {"values": [{"k": "52.03%\u00a0\u00a0CD25⁺", "lo": 0, "hi": 52.03}, {"k": "47.97%\u00a0\u00a0CD25⁻", "lo": 52.03, "hi": 100}]},
              "mark": {"type": "rect"},
              "encoding": {
                "x": {"field": "lo", "type": "quantitative", "scale": {"domain": [9.375, 100], "nice": false, "zero": false}, "axis": null},
                "x2": {"field": "hi"},
                "y": {"datum": 0, "type": "quantitative", "scale": {"domain": [0, 1], "nice": false, "zero": false}, "axis": null},
                "y2": {"datum": 1},
                "color": {"field": "k", "type": "nominal", "scale": {"domain": ["52.03%\u00a0\u00a0CD25⁺", "47.97%\u00a0\u00a0CD25⁻"], "range": ["#E8292C", "#6DBD45"]},
                  "legend": {"orient": "none", "legendX": -28, "legendY": 128, "title": null, "symbolType": "square", "symbolSize": 289, "symbolStrokeColor": "#231F20", "symbolStrokeWidth": 1, "labelFontSize": 37, "labelOffset": -4, "rowPadding": 0, "labelLimit": 0}}
              }
            },
            {
              "data": {"values": [
                {"c": "r", "x": 73.2, "y": 2.938, "x2": 8.5, "y2": 1.557},
                {"c": "r", "x": 8.5, "y": 1.557, "x2": 8.5, "y2": 1.14},
                {"c": "g", "x": 136.2, "y": 2.866, "x2": 89.3, "y2": 1.845},
                {"c": "g", "x": 89.3, "y": 1.845, "x2": 89.3, "y2": 1.14}
              ]},
              "mark": {"type": "rule", "strokeWidth": 2.5},
              "encoding": {
                "x": {"field": "x", "type": "quantitative", "scale": {"domain": [9.375, 100], "nice": false, "zero": false}, "axis": null},
                "x2": {"field": "x2"},
                "y": {"field": "y", "type": "quantitative", "scale": {"domain": [0, 1], "nice": false, "zero": false}, "axis": null},
                "y2": {"field": "y2"},
                "color": {"condition": {"test": "datum.c == 'r'", "value": "#D6402D"}, "value": "#6CBD45"}
              }
            },
            {
              "data": {"values": [{"c": "r", "x": 8.5, "y": 1.139}, {"c": "g", "x": 89.3, "y": 1.139}]},
              "mark": {"type": "point", "shape": "M0,1L-0.85,-1L0,-0.5L0.85,-1Z", "size": 225, "filled": true, "opacity": 1},
              "encoding": {
                "x": {"field": "x", "type": "quantitative", "scale": {"domain": [9.375, 100], "nice": false, "zero": false}, "axis": null},
                "y": {"field": "y", "type": "quantitative", "scale": {"domain": [0, 1], "nice": false, "zero": false}, "axis": null},
                "color": {"condition": {"test": "datum.c == 'r'", "value": "#D6402D"}, "value": "#6CBD45"}
              }
            },
            {
              "data": {"values": [
                {"x": 17.9, "x2": 83.0, "y": 1.134, "y2": 1.134},
                {"x": 17.9, "x2": 17.9, "y": 1.0, "y2": 1.237},
                {"x": 83.0, "x2": 83.0, "y": 1.0, "y2": 1.237}
              ]},
              "mark": {"type": "rule", "strokeWidth": 3.5, "color": "#231F20"},
              "encoding": {
                "x": {"field": "x", "type": "quantitative", "scale": {"domain": [9.375, 100], "nice": false, "zero": false}, "axis": null},
                "x2": {"field": "x2"},
                "y": {"field": "y", "type": "quantitative", "scale": {"domain": [0, 1], "nice": false, "zero": false}, "axis": null},
                "y2": {"field": "y2"}
              }
            },
            {
              "data": {"values": [{"x": 52.7, "y": 1.186}]},
              "mark": {"type": "text", "fontSize": 38, "baseline": "alphabetic"},
              "encoding": {
                "x": {"field": "x", "type": "quantitative", "scale": {"domain": [9.375, 100], "nice": false, "zero": false}, "axis": null},
                "y": {"field": "y", "type": "quantitative", "scale": {"domain": [0, 1], "nice": false, "zero": false}, "axis": null},
                "text": {"value": "ns"}
              }
            },
            {
              "data": {"values": [{"x": -13.8, "y": 1.12}]},
              "mark": {"type": "text", "fontSize": 26, "fontWeight": "bold", "baseline": "alphabetic", "color": "#000000"},
              "encoding": {
                "x": {"field": "x", "type": "quantitative", "scale": {"domain": [9.375, 100], "nice": false, "zero": false}, "axis": null},
                "y": {"field": "y", "type": "quantitative", "scale": {"domain": [0, 1], "nice": false, "zero": false}, "axis": null},
                "text": {"value": "I"}
              }
            }
          ]
        }
      ]
    }
  ]
}
